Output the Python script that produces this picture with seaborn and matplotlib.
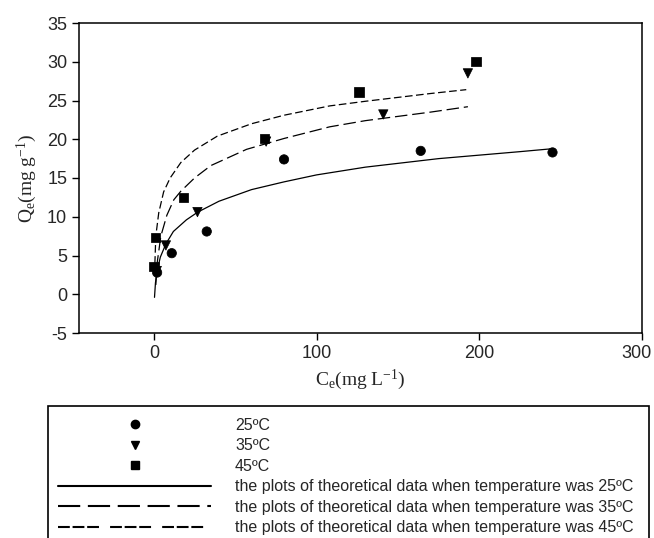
import numpy as np
import pandas as pd
import matplotlib
matplotlib.use("Agg")
import matplotlib.pyplot as plt
import matplotlib.transforms as mtransforms
import seaborn as sns
from matplotlib.lines import Line2D
from matplotlib.patches import Rectangle

# measured points
temps = ["25ºC", "35ºC", "45ºC"]
ce_25 = [2, 11, 32.5, 80, 164, 245]
qe_25 = [2.8, 5.3, 8.1, 17.4, 18.5, 18.3]
ce_35 = [1.8, 7.4, 26.8, 69, 141, 193]
qe_35 = [3.0, 6.3, 10.6, 19.7, 23.2, 28.5]
ce_45 = [0, 1, 18.2, 68, 126, 198]
qe_45 = [3.6, 7.3, 12.5, 20.1, 26.1, 30.0]

# theoretical curves
fit_x_25 = [0.4, 1, 2, 4, 7.4, 12, 20, 27, 40, 60, 80, 100, 130, 175, 225, 246]
fit_y_25 = [-0.4, 1.5, 3.0, 4.8, 6.5, 8.1, 9.6, 10.6, 12.0, 13.5, 14.5, 15.4, 16.4, 17.5, 18.4, 18.8]
fit_x_35 = [1.2, 2, 4.3, 8, 12.3, 16.6, 25, 35, 57, 80, 108, 130, 170, 193]
fit_y_35 = [1.2, 4.0, 7.5, 10.2, 12.2, 13.3, 15.0, 16.6, 18.7, 20.1, 21.6, 22.4, 23.5, 24.2]
fit_x_45 = [0.4, 1.2, 3, 6, 10, 16.6, 25, 39, 60, 80, 108, 130, 170, 192]
fit_y_45 = [2.5, 7.5, 10.5, 13.2, 15.0, 17.0, 18.6, 20.4, 22.0, 23.1, 24.3, 24.9, 25.9, 26.4]

legend_labels = temps + ["the plots of theoretical data when temperature was " + t for t in temps]

pts = pd.concat([
    pd.DataFrame({"Ce": ce_25, "Qe": qe_25, "temp": temps[0]}),
    pd.DataFrame({"Ce": ce_35, "Qe": qe_35, "temp": temps[1]}),
    pd.DataFrame({"Ce": ce_45, "Qe": qe_45, "temp": temps[2]}),
])
fits = pd.concat([
    pd.DataFrame({"Ce": fit_x_25, "Qe": fit_y_25, "temp": temps[0]}),
    pd.DataFrame({"Ce": fit_x_35, "Qe": fit_y_35, "temp": temps[1]}),
    pd.DataFrame({"Ce": fit_x_45, "Qe": fit_y_45, "temp": temps[2]}),
])

sns.set_style("ticks")
plt.rcParams["font.family"] = ["Liberation Sans", "DejaVu Sans"]
plt.rcParams["mathtext.fontset"] = "custom"
plt.rcParams["mathtext.rm"] = "Liberation Serif"
plt.rcParams["mathtext.it"] = "Liberation Serif:italic"
plt.rcParams["lines.scale_dashes"] = False
plt.rcParams["axes.unicode_minus"] = False

fig = plt.figure(figsize=(6.54, 5.38), dpi=100)
L, R, T, B = 79, 642, 23, 333
ax = fig.add_axes([L / 654, 1 - B / 538, (R - L) / 654, (B - T) / 538])

sns.lineplot(data=fits, x="Ce", y="Qe", style="temp", color="black", linewidth=0.9,
             dashes={temps[0]: "", temps[1]: (9, 3.5), temps[2]: (5.5, 2.5)},
             estimator=None, sort=False, legend=False, ax=ax)
sns.scatterplot(data=pts, x="Ce", y="Qe", style="temp", color="black", s=45,
                markers={temps[0]: "o", temps[1]: "v", temps[2]: "s"},
                edgecolor="black", legend=False, ax=ax, zorder=3)

ax.set_xlim(-46, 300)
ax.set_ylim(-5, 35)
ax.set_xticks([0, 100, 200, 300])
ax.set_yticks(range(-5, 40, 5))
ax.tick_params(labelsize=13, length=5, width=1, direction="out", pad=3.5, color="black")
for s in ax.spines.values():
    s.set_linewidth(1.1)
    s.set_color("black")
ax.set_xlabel(r"$\mathrm{C_e(mg\ L^{-1})}$", fontsize=14, labelpad=4)
ax.set_ylabel(r"$\mathrm{Q_e(mg\ g^{-1})}$", fontsize=14, labelpad=6)

# the last x tick label sits a little left of its tick in the original
last = ax.get_xticklabels()[-1]
last.set_transform(last.get_transform() + mtransforms.ScaledTranslation(-6 / 100, 0, fig.dpi_scale_trans))

handles = [
    Line2D([], [], ls="none", marker="o", color="black", markersize=6),
    Line2D([], [], ls="none", marker="v", color="black", markersize=6),
    Line2D([], [], ls="none", marker="s", color="black", markersize=6),
    Line2D([], [], color="black", lw=1.5),
    Line2D([], [], color="black", lw=1.5, dashes=(16, 5.5)),
    Line2D([], [], color="black", lw=1.5, dashes=(8.5, 2, 8.5, 2, 8.5, 8)),
]
fig.add_artist(Rectangle((47.5 / 654, -0.1), (649 - 47.5) / 654, 1 - 406 / 538 + 0.1,
                         transform=fig.transFigure, fill=False, lw=1.2, ec="black"))
fig.legend(handles, legend_labels, loc="upper left",
           bbox_to_anchor=(58 / 654, 1 - 418 / 538), frameon=False, borderpad=0,
           fontsize=11.5, handlelength=9.6, handletextpad=1.48, labelspacing=0.34,
           borderaxespad=0)

fig.savefig("out.png", dpi=100)
